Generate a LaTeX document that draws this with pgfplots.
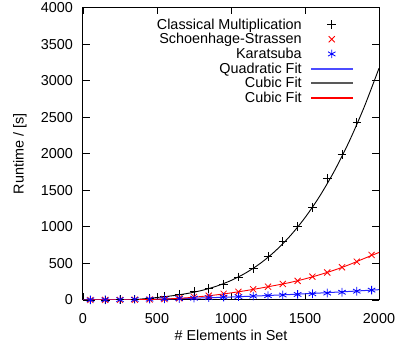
\documentclass[border=0pt]{standalone}
\usepackage{pgfplots}
\pgfplotsset{compat=1.18}
\usepackage{fontspec}
\setmainfont{Liberation Sans}
\newcommand{\ff}{\fontsize{14.4bp}{17bp}\selectfont}
\pgfplotsset{
  marklegend/.style={legend image code/.code={\draw[##1] plot coordinates {(20.5bp,0bp)};}},
}
\begin{document}
\begin{tikzpicture}
\begin{axis}[
  scale only axis, width=296bp, height=292.5bp,
  xmin=0, xmax=2000, ymin=0, ymax=4000,
  xtick={0,500,...,2000}, ytick={0,500,...,4000},
  tick align=inside, tick pos=both, major tick length=7bp,
  axis line style={line width=1bp},
  every tick/.style={line width=0.8bp, black},
  /pgf/number format/assume math mode=true,
  /pgf/number format/set thousands separator={},
  scaled ticks=false,
  tick label style={font=\ff},
  label style={font=\ff},
  xticklabel style={inner sep=0pt, anchor=north, yshift=-13bp},
  yticklabel style={inner sep=0pt, anchor=east, xshift=-10bp},
  xlabel={\# Elements in Set}, ylabel={Runtime / [s]},
  xlabel style={at={(axis description cs:0.5,-0.1197)}, anchor=center, inner sep=0pt},
  ylabel style={at={(axis description cs:-0.213,0.5)}, anchor=center, inner sep=0pt},
  legend style={draw=none, fill=none, at={(rel axis cs:0.912,0.9675)}, anchor=north east,
    inner sep=0pt, row sep=0pt, column sep=9bp, font=\ff,
    nodes={inner sep=0pt, minimum height=14.7bp}},
  legend cell align=right, legend plot pos=right,
]
\addplot[only marks, black, mark=+, mark size=4.3bp, mark options={line width=0.8bp}, marklegend]
  coordinates {(50,0)(150,1)(250,5)(350,12)(450,25)(550,45)(650,78)(750,114)(850,155)(950,215)(1050,315)(1150,428)(1250,592)(1350,798)(1450,1003)(1550,1268)(1650,1665)(1750,1993)(1850,2425)};
\addlegendentry{Classical Multiplication}
\addplot[only marks, red, mark=x, mark size=4.3bp, mark options={line width=0.8bp}, marklegend]
  coordinates {(50,0)(150,1)(250,2)(350,4)(450,7)(550,13)(650,24)(750,42)(850,58)(950,85)(1050,112)(1150,146)(1250,182)(1350,219)(1450,262)(1550,319)(1650,376)(1750,447)(1850,524)(1950,616)};
\addlegendentry{Schoenhage-Strassen}
\addplot[only marks, blue, mark=asterisk, mark size=4.3bp, mark options={line width=0.8bp}, marklegend]
  coordinates {(50,2)(150,3)(250,5)(350,8)(450,11)(550,15)(650,20)(750,25)(850,32)(950,39)(1050,46)(1150,53)(1250,60)(1350,68)(1450,76)(1550,85)(1650,95)(1750,106)(1850,120)(1950,135)};
\addlegendentry{Karatsuba}
\addplot[color=blue!85!white, line width=1bp, smooth,
  legend image code/.code={\fill[blue!70!white] (0bp,-0.5bp) rectangle (41bp,0.5bp);}]
  coordinates {(0,3)(100,3.5)(200,4.5)(300,6)(400,8.5)(500,12)(600,16.5)(700,21.5)(800,27.5)(900,34)(1000,41)(1100,49)(1200,57)(1300,66)(1400,75)(1500,85)(1600,95)(1700,106)(1800,117)(1900,129)(2000,141)};
\addlegendentry{Quadratic Fit}
\addplot[color=black, line width=0.9bp, smooth,
  legend image code/.code={\fill[black!65!white] (0bp,-0.5bp) rectangle (41bp,0.5bp);}]
  coordinates {(0,-127.9)(100,-74.4)(200,-35.9)(300,-7.9)(400,13.9)(500,34.1)(600,57.1)(700,87.4)(800,129.4)(900,187.6)(1000,266.5)(1100,370.4)(1200,503.8)(1300,671.3)(1400,877.2)(1500,1126.1)(1600,1422.3)(1700,1770.3)(1800,2174.7)(1900,2639.7)(2000,3170)};
\addlegendentry{Cubic Fit}
\addplot[color=red, line width=0.9bp, smooth,
  legend image code/.code={\fill[red] (0bp,-0.5bp) rectangle (41bp,0.5bp);}]
  coordinates {(0,0)(100,1)(200,2)(300,3)(400,5)(500,10)(600,18)(700,30)(800,48)(900,70)(1000,97)(1100,128)(1200,163)(1300,200)(1400,240)(1500,289)(1600,346)(1700,410)(1800,484)(1900,568)(2000,650)};
\addlegendentry{Cubic Fit}
\coordinate (bbl) at (rel axis cs:-0.2804,-0.1675);
\coordinate (bbr) at (rel axis cs:1.0574,1.02564);
\end{axis}
\pgfresetboundingbox
\path[use as bounding box] (bbl) rectangle (bbr);
\end{tikzpicture}
\end{document}
